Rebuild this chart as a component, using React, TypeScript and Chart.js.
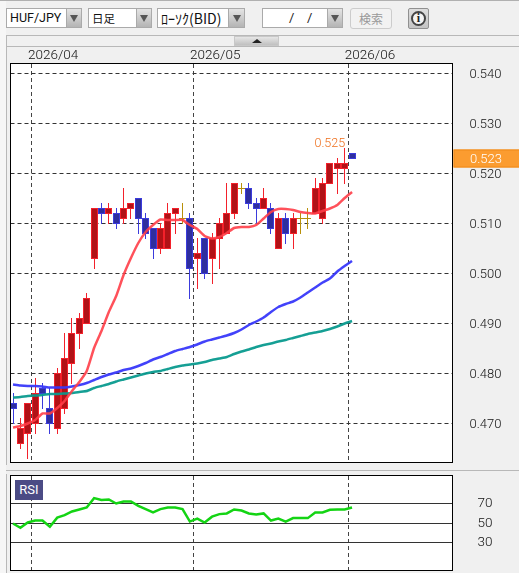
import React, { useEffect, useRef } from "react";
import { Chart, registerables } from "chart.js";

Chart.register(...registerables);

const indexes = Array.from({ length: 47 }, (_, i) => i);
const opens = [.474,.466,.468,.470,.477,.473,.469,.473,.482,.488,.490,.503,.513,.512,.512,.511,.513,.515,.511,.509,.505,.505,.512,.511,.511,.503,.507,.503,.507,.508,.512,.517,.517,.514,.513,.513,.505,.511,.508,.511,.511,.512,.511,.518,.521,.521,.524];
const closes = [.473,.469,.474,.476,.476,.470,.480,.483,.488,.491,.495,.513,.512,.513,.510,.513,.514,.511,.508,.505,.509,.512,.513,.511,.501,.504,.500,.507,.510,.512,.518,.517,.514,.513,.515,.509,.511,.508,.511,.511,.511,.517,.518,.522,.522,.522,.523];
const highs = [.476,.471,.474,.479,.478,.477,.481,.488,.491,.492,.496,.513,.514,.514,.513,.517,.514,.515,.512,.509,.510,.514,.513,.514,.512,.507,.507,.508,.511,.518,.518,.518,.518,.515,.517,.514,.512,.512,.512,.512,.513,.519,.519,.522,.523,.525,.524];
const lows = [.470,.465,.463,.468,.473,.468,.468,.472,.478,.485,.490,.501,.510,.510,.509,.510,.511,.508,.507,.503,.504,.505,.508,.510,.495,.497,.499,.498,.501,.508,.511,.516,.513,.510,.513,.508,.505,.506,.505,.508,.509,.512,.510,.518,.516,.518,.523];
const maShort = [.4692,.4695,.4700,.4707,.4720,.4720,.4731,.4745,.4765,.4783,.4805,.4851,.4885,.4923,.4955,.4997,.5031,.5061,.5083,.5097,.5108,.5107,.5107,.5107,.5097,.5089,.5075,.5070,.5073,.5081,.5091,.5093,.5093,.5097,.5110,.5123,.5129,.5129,.5127,.5123,.5121,.5120,.5125,.5130,.5137,.5151,.5163];
const maMid = [.4778,.4776,.4775,.4775,.4774,.4772,.4772,.4772,.4774,.4777,.4781,.4787,.4793,.4798,.4802,.4807,.4810,.4815,.4821,.4828,.4833,.4839,.4845,.4849,.4853,.4858,.4864,.4868,.4872,.4876,.4881,.4888,.4897,.4904,.4912,.4923,.4933,.4939,.4944,.4952,.4962,.4972,.4982,.4990,.5004,.5015,.5025];
const maLong = [.4752,.4753,.4755,.4756,.4757,.4759,.4759,.4760,.4761,.4763,.4765,.4771,.4775,.4779,.4784,.4788,.4792,.4796,.4800,.4803,.4805,.4809,.4813,.4816,.4818,.4820,.4823,.4827,.4830,.4833,.4839,.4844,.4848,.4853,.4857,.4860,.4864,.4867,.4871,.4875,.4879,.4882,.4885,.4889,.4894,.4900,.4905];
const rsiValues = [50,45.6,51,53,53,46.6,56,58.5,62.3,64.4,66.4,76,74,74.6,70.5,72.6,72.6,68,64.7,61.3,64.7,66.4,66.4,64.7,52,55,51,57,59.6,60.3,64.4,63.3,60.3,59.2,60.3,53,55,52,55.5,55.5,55.5,61.3,61.3,64,64.4,64.4,66.4];
const priceTicks = [0.47, 0.48, 0.49, 0.5, 0.51, 0.52, 0.53, 0.54];
const rsiTicks = [30, 50, 70];
const monthTicks = [2.5, 24.5, 45.5];
const monthLabels = ["2026/04", "2026/05", "2026/06"];

const FONT = 'Roboto, "Liberation Sans", Arial, sans-serif';
const CJK = '"Noto Sans CJK JP", "Liberation Sans", sans-serif';
const X_MIN = -0.34;
const X_MAX = 59.63;

const UP_FILL = "#b11217";
const UP_LINE = "#f3212b";
const DOWN_FILL = "#2e2e9e";
const DOWN_LINE = "#3b3bdc";
const DOJI = "#b8900a";

const frame = {
  id: "frame",
  beforeDraw(chart: any) {
    const { ctx, chartArea: a } = chart;
    ctx.save();
    ctx.fillStyle = "#fff";
    ctx.fillRect(a.left, a.top, a.right - a.left, a.bottom - a.top);
    ctx.restore();
  },
  afterDraw(chart: any) {
    const { ctx, chartArea: a } = chart;
    ctx.save();
    ctx.strokeStyle = "#000";
    ctx.lineWidth = 1;
    ctx.strokeRect(a.left, a.top, a.right - a.left, a.bottom - a.top);
    ctx.restore();
  },
};

// Pixel-snap the candle elements so 1px wicks stay crisp, as in the reference.
const snapCandles = {
  id: "snapCandles",
  afterDatasetsUpdate(chart: any) {
    chart.data.datasets.forEach((ds: any, di: number) => {
      const meta = chart.getDatasetMeta(di);
      if (ds.snap === "bar") {
        meta.data.forEach((el: any) => {
          const top = Math.min(el.y, el.base);
          const bottom = Math.max(el.y, el.base);
          el.x = Math.floor(el.x) + 0.5;
          el.y = Math.floor(top);
          el.base = Math.floor(bottom) + 1;
        });
      } else if (ds.snap === "point") {
        meta.data.forEach((el: any) => {
          el.x = Math.floor(el.x) + 0.5;
          el.y = Math.floor(el.y) + 0.5;
        });
      }
    });
  },
};

const annotations = {
  id: "annotations",
  afterDraw(chart: any) {
    const { ctx, scales, chartArea: a, width } = chart;
    ctx.save();
    const maxHigh = Math.max(...highs);
    const hi = highs.indexOf(maxHigh);
    ctx.font = `300 12.5px ${FONT}`;
    ctx.fillStyle = "#ee6f1c";
    ctx.textAlign = "right";
    ctx.textBaseline = "bottom";
    ctx.fillText(maxHigh.toFixed(3), scales.x.getPixelForValue(hi) + 0.5, scales.y.getPixelForValue(maxHigh) + 2);

    const last = closes[closes.length - 1];
    const yc = scales.y.getPixelForValue(last);
    const left = a.right + 1;
    ctx.fillStyle = "#fb9c30";
    ctx.fillRect(left, yc - 9, width - left, 18);
    ctx.strokeStyle = "#f08a18";
    ctx.strokeRect(left + 0.5, yc - 9 + 0.5, width - left, 17);
    ctx.font = `300 13px ${FONT}`;
    ctx.fillStyle = "#fff";
    ctx.textAlign = "left";
    ctx.textBaseline = "middle";
    ctx.fillText(last.toFixed(3), a.right + 17.5, yc + 1);
    ctx.restore();
  },
};

const noScalePadding = (scale: any) => {
  scale.paddingTop = 0;
  scale.paddingBottom = 0;
  scale.paddingLeft = 0;
  scale.paddingRight = 0;
};

const gridX = (labels: boolean) => ({
  type: "linear" as const,
  position: "top" as const,
  min: X_MIN,
  max: X_MAX,
  offset: false,
  afterBuildTicks(scale: any) {
    scale.ticks = monthTicks.map((value) => ({ value }));
  },
  afterFit(scale: any) {
    scale.height = labels ? 16.5 : 0;
    noScalePadding(scale);
  },
  grid: { color: "#444", lineWidth: 1, drawTicks: false, offset: false },
  border: { display: false, dash: [4, 3] },
  ticks: {
    display: labels,
    autoSkip: false,
    maxRotation: 0,
    padding: 0,
    align: "start" as const,
    labelOffset: -3.5,
    color: "#111",
    font: { family: FONT, size: 13.5, weight: "300" },
    callback: (_v: any, i: number) => monthLabels[i],
  },
});

export default function App() {
  const mainRef = useRef<HTMLCanvasElement>(null);
  const rsiRef = useRef<HTMLCanvasElement>(null);

  useEffect(() => {
    const isUp = (i: number) => closes[i] > opens[i];
    const bodyIdx = indexes.filter((i) => closes[i] !== opens[i]);
    const dojiIdx = indexes.filter((i) => closes[i] === opens[i]);
    const line = (label: string, data: number[], color: string, order: number) => ({
      type: "line" as const,
      label,
      data: indexes.map((i) => ({ x: i, y: data[i] })),
      borderColor: color,
      borderWidth: 2.5,
      pointRadius: 0,
      tension: 0.15,
      order,
    });

    const main = new Chart(mainRef.current!, {
      type: "bar",
      data: {
        datasets: [
          line("MA short", maShort, "rgba(255,62,72,0.9)", 1),
          line("MA mid", maMid, "rgba(56,56,250,0.95)", 2),
          line("MA long", maLong, "rgba(8,154,142,0.95)", 3),
          {
            type: "bar",
            label: "body",
            snap: "bar",
            data: bodyIdx.map((i) => ({ x: i, y: [opens[i], closes[i]] })),
            backgroundColor: bodyIdx.map((i) => (isUp(i) ? UP_FILL : DOWN_FILL)),
            borderColor: bodyIdx.map((i) => (isUp(i) ? UP_LINE : DOWN_LINE)),
            borderWidth: 1,
            borderSkipped: false,
            inflateAmount: 0,
            barThickness: 7,
            grouped: false,
            order: 4,
          },
          {
            type: "line",
            label: "doji",
            snap: "point",
            showLine: false,
            data: dojiIdx.map((i) => ({ x: i, y: closes[i] })),
            pointStyle: "line",
            pointRadius: 3.5,
            pointBorderWidth: 1,
            pointBorderColor: DOJI,
            order: 5,
          },
          {
            type: "bar",
            label: "wick",
            snap: "bar",
            data: indexes.map((i) => ({ x: i, y: [lows[i], highs[i]] })),
            backgroundColor: indexes.map((i) =>
              closes[i] === opens[i] ? DOJI : isUp(i) ? UP_LINE : DOWN_LINE
            ),
            borderWidth: 0,
            inflateAmount: 0,
            barThickness: 1,
            grouped: false,
            order: 6,
          },
        ] as any,
      },
      options: {
        responsive: false,
        animation: false,
        events: [],
        layout: { autoPadding: false, padding: { left: 10.5, top: 0, right: 0, bottom: 4.5 } },
        plugins: { legend: { display: false }, tooltip: { enabled: false } },
        scales: {
          x: gridX(true),
          y: {
            position: "right",
            min: 0.4622,
            max: 0.542,
            afterBuildTicks(scale: any) {
              scale.ticks = priceTicks.map((value) => ({ value }));
            },
            afterFit(scale: any) {
              scale.width = 66.5;
              noScalePadding(scale);
            },
            grid: { color: "#333", lineWidth: 1, drawTicks: false },
            border: { display: false, dash: [4, 3] },
            ticks: {
              padding: 17,
              labelOffset: 1,
              color: "#111",
              font: { family: FONT, size: 13, weight: "300" },
              callback: (v: any) => Number(v).toFixed(3),
            },
          },
        },
      } as any,
      plugins: [frame, snapCandles, annotations],
    });

    const rsi = new Chart(rsiRef.current!, {
      type: "line",
      data: {
        datasets: [
          {
            label: "RSI",
            data: indexes.map((i) => ({ x: i, y: rsiValues[i] })),
            borderColor: "#14d414",
            borderWidth: 2.5,
            pointRadius: 0,
          },
        ],
      },
      options: {
        responsive: false,
        animation: false,
        events: [],
        layout: { autoPadding: false, padding: { left: 10.5, top: 3.5, right: 0, bottom: 2.5 } },
        plugins: { legend: { display: false }, tooltip: { enabled: false } },
        scales: {
          x: gridX(false),
          y: {
            position: "right",
            min: 1.8,
            max: 99.2,
            afterBuildTicks(scale: any) {
              scale.ticks = rsiTicks.map((value) => ({ value }));
            },
            afterFit(scale: any) {
              scale.width = 66.5;
              noScalePadding(scale);
            },
            grid: { color: "#333", lineWidth: 1, drawTicks: false },
            border: { display: false },
            ticks: {
              padding: 25,
              color: "#111",
              font: { family: FONT, size: 13.5, weight: "300" },
            },
          },
        },
      } as any,
      plugins: [frame],
    });

    return () => {
      main.destroy();
      rsi.destroy();
    };
  }, []);

  const abs = (l: number, t: number, w: number, h: number, extra: any = {}) => ({
    position: "absolute" as const,
    left: l,
    top: t,
    width: w,
    height: h,
    boxSizing: "border-box" as const,
    ...extra,
  });

  const combo = (l: number, arrowL: number, r: number, text: string, font: string, textLeft = 4) => (
    <>
      <div
        style={abs(l, 8, arrowL - l, 20, {
          background: "#fff",
          border: "1px solid #aaa",
          borderRight: "none",
          font,
          color: "#111",
          paddingLeft: textLeft,
          whiteSpace: "nowrap",
          overflow: "hidden",
        })}
      >
        {text}
      </div>
      <div
        style={abs(arrowL, 8, r - arrowL, 20, {
          background: "linear-gradient(#e4e4e4,#b4b4b4)",
          border: "1px solid #aaa",
        })}
      >
        <div
          style={{
            position: "absolute",
            left: (r - arrowL) / 2 - 5,
            top: 6,
            width: 0,
            height: 0,
            borderLeft: "4px solid transparent",
            borderRight: "4px solid transparent",
            borderTop: "7px solid #555",
          }}
        />
      </div>
    </>
  );

  return (
    <div style={abs(0, 0, 519, 573, { background: "#f0f0f0", overflow: "hidden" })}>
      <style>{`html,body{margin:0;padding:0;background:#f0f0f0}`}</style>
      <div style={abs(0, 0, 519, 1, { background: "#b0b0b0" })} />
      {combo(6, 66, 82, "HUF/JPY", `12.5px/18px ${FONT}`, 3)}
      {combo(88, 136, 152, "日足", `11.5px/18px ${CJK}`, 3)}
      {combo(157, 228, 245, "ﾛｰｿｸ(BID)", `14px/18px ${CJK}`, 3)}
      {combo(262, 327, 343, "", `13px/18px ${FONT}`)}
      <div style={{ position: "absolute", left: 289, top: 9, font: `13px/18px ${FONT}`, color: "#222" }}>/</div>
      <div style={{ position: "absolute", left: 307, top: 9, font: `13px/18px ${FONT}`, color: "#222" }}>/</div>
      <div
        style={abs(350, 8, 42, 21, {
          background: "#f2f2f2",
          border: "1px solid #ccc",
          borderRadius: 3,
          font: `12px/19px ${CJK}`,
          color: "#999",
          textAlign: "center",
        })}
      >
        検索
      </div>
      <div
        style={abs(408, 8, 21, 21, {
          background: "linear-gradient(#dedede,#c4c4c4)",
          border: "1px solid #909090",
          borderRadius: 2,
        })}
      >
        <div
          style={abs(2, 2, 15, 15, {
            border: "2px solid #444",
            borderRadius: "50%",
            background: "#f4f4f4",
            font: `bold 12px/11px "Liberation Serif", serif`,
            textAlign: "center",
            color: "#222",
          })}
        >
          i
        </div>
      </div>

      <div style={abs(0, 0, 6, 573, { background: "#f6f6f6" })} />
      <div style={abs(0, 0, 519, 1, { background: "#b0b0b0" })} />
      <div style={abs(6, 35, 1, 430, { background: "#b8b8b8" })} />
      <div style={abs(6, 474, 1, 99, { background: "#b8b8b8" })} />
      <div style={abs(6, 35, 513, 1, { background: "#b8b8b8" })} />
      <div style={abs(7, 46, 512, 1, { background: "#b8b8b8" })} />
      <div style={abs(6, 470, 513, 1, { background: "#b8b8b8" })} />
      <div style={abs(234, 36, 45, 10, { background: "linear-gradient(#e6e6e6,#c0c0c0)", border: "1px solid #c8c8c8" })}>
        <div
          style={{
            position: "absolute",
            left: 17,
            top: 2,
            width: 0,
            height: 0,
            borderLeft: "5px solid transparent",
            borderRight: "5px solid transparent",
            borderBottom: "4px solid #222",
          }}
        />
      </div>

      <canvas ref={mainRef} width={519} height={420} style={abs(0, 47, 519, 420, { display: "block" })} />
      <canvas ref={rsiRef} width={519} height={101} style={abs(0, 472, 519, 101, { display: "block" })} />
      <div
        style={abs(15, 480, 28, 20, {
          background: "#4b4b85",
          color: "#fff",
          font: `13px/20px ${FONT}`,
          textAlign: "center",
        })}
      >
        RSI
      </div>
    </div>
  );
}
